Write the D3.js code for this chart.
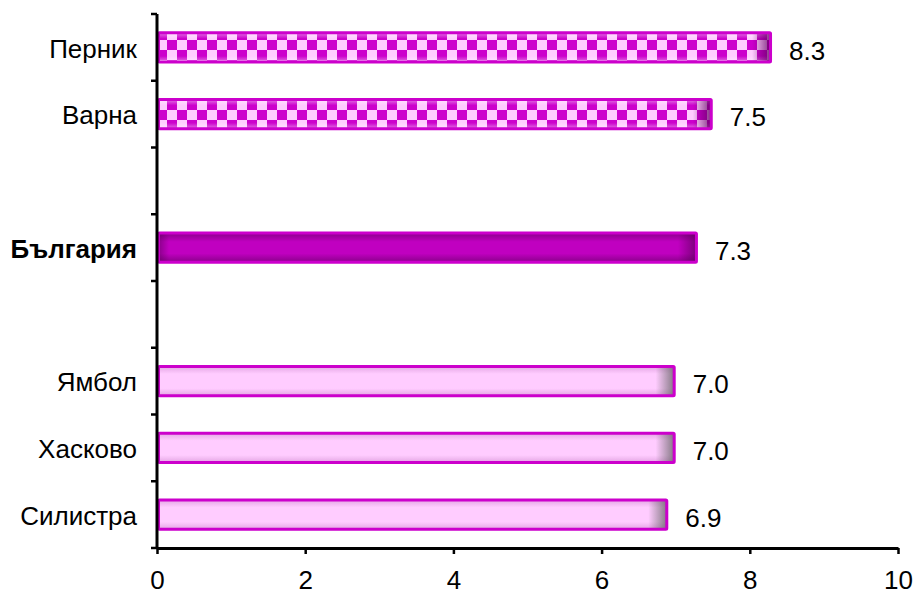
<!DOCTYPE html>
<html><head><meta charset="utf-8">
<script src="https://cdn.jsdelivr.net/npm/d3@7"></script>
<style>body{margin:0;background:#fff}svg{display:block}</style>
</head><body>
<svg id="chart" width="918" height="594"></svg>
<script>
const categories = ["Перник","Варна","gap1","България","gap2","Ямбол","Хасково","Силистра"];
const labels = ["Перник","Варна","","България","","Ямбол","Хасково","Силистра"];
const values = [8.3, 7.5, null, 7.3, null, 7.0, 7.0, 6.9];
const kinds = ["high","high",null,"national",null,"low","low","low"];
const xTicks = [0,2,4,6,8,10];

const FONT = "Liberation Sans, Arial, sans-serif";
const FS = 26;
const svg = d3.select("#chart");
const L = 157, R = 898, T = 14, B = 548;
const x = d3.scaleLinear().domain([0,10]).range([L,R]);
const y = d3.scaleBand().domain(categories).range([T,B]).paddingInner(0.52).paddingOuter(0.26);

const defs = svg.append("defs");
const pat = defs.append("pattern").attr("id","checker").attr("patternUnits","userSpaceOnUse")
  .attr("width",20).attr("height",20).attr("x",L).attr("y",0);
pat.append("rect").attr("width",20).attr("height",20).attr("fill","#ffccff");
pat.append("rect").attr("x",10).attr("y",0).attr("width",10).attr("height",10).attr("fill","#cc00cc");
pat.append("rect").attr("x",0).attr("y",10).attr("width",10).attr("height",10).attr("fill","#cc00cc");

function vgrad(id, color, op, inner) {
  const g = defs.append("linearGradient").attr("id",id).attr("x1",0).attr("y1",0).attr("x2",0).attr("y2",1);
  [[0,op],[inner,0],[1-inner,0],[1,op]].forEach(s=>
    g.append("stop").attr("offset",s[0]).attr("stop-color",color).attr("stop-opacity",s[1]));
}
vgrad("vsheen","#ffffff",0.45,0.2);
vgrad("vdark","#600060",0.55,0.3);
vgrad("vlight","#b060b0",0.35,0.25);

const H = y.bandwidth();
const bars = svg.append("g");
categories.forEach((c,i)=>{
  const v = values[i];
  if (v == null) return;
  const x0 = x(0), x1 = x(v), y0 = y(c);
  const w = x1 - x0;
  const g = bars.append("g");
  const k = kinds[i];
  const fill = k === "high" ? "url(#checker)" : k === "national" ? "#c000c0" : "#ffccff";
  g.append("rect").attr("x",x0+1.5).attr("y",y0+1.5).attr("width",w-3).attr("height",H-3).attr("fill",fill);
  const ov = k === "high" ? "url(#vsheen)" : k === "national" ? "url(#vdark)" : "url(#vlight)";
  g.append("rect").attr("x",x0+1.5).attr("y",y0+1.5).attr("width",w-3).attr("height",H-3).attr("fill",ov);
  const gid = "rs"+i;
  const gr = defs.append("linearGradient").attr("id",gid).attr("gradientUnits","userSpaceOnUse")
    .attr("x1",x1-20).attr("x2",x1-2).attr("y1",0).attr("y2",0);
  const sc = k === "national" ? "#500050" : k === "high" ? "#600060" : "#606060";
  gr.append("stop").attr("offset",0).attr("stop-color",sc).attr("stop-opacity",0);
  gr.append("stop").attr("offset",1).attr("stop-color",sc).attr("stop-opacity",k==="national"?0.6:0.75);
  g.append("rect").attr("x",x1-20).attr("y",y0+1.5).attr("width",18.5).attr("height",H-3).attr("fill","url(#"+gid+")");
  if (k === "national") {
    const gl = defs.append("linearGradient").attr("id","ls"+i).attr("gradientUnits","userSpaceOnUse")
      .attr("x1",x0+1).attr("x2",x0+12).attr("y1",0).attr("y2",0);
    gl.append("stop").attr("offset",0).attr("stop-color","#500050").attr("stop-opacity",0.5);
    gl.append("stop").attr("offset",1).attr("stop-color","#500050").attr("stop-opacity",0);
    g.append("rect").attr("x",x0+1.5).attr("y",y0+1.5).attr("width",11).attr("height",H-3).attr("fill","url(#ls"+i+")");
  }
  g.append("rect").attr("x",x0+1.5).attr("y",y0+1.5).attr("width",w-3).attr("height",H-3)
    .attr("fill","none").attr("stroke","#cc00cc").attr("stroke-width",3).attr("rx",1);
  svg.append("text").attr("x",x1+17).attr("y",y0+H/2+0.358*FS+3)
    .attr("font-family",FONT).attr("font-size",FS).attr("fill","#000")
    .text(d3.format(".1f")(v));
});

categories.forEach((c,i)=>{
  if (!labels[i]) return;
  svg.append("text").attr("x",137).attr("y",y(c)+H/2+0.358*FS+1).attr("text-anchor","end")
    .attr("font-family",FONT).attr("font-size",FS)
    .attr("font-weight", kinds[i]==="national" ? "bold" : "normal").attr("fill","#000").text(labels[i]);
});

const yax = svg.append("g");
yax.append("line").attr("x1",L).attr("x2",L).attr("y1",T).attr("y2",B).attr("stroke","#000").attr("stroke-width",3);
const step = y.step();
d3.range(categories.length+1).forEach(k=>{
  const yy = T + k*step;
  yax.append("line").attr("x1",L-6).attr("x2",L).attr("y1",yy).attr("y2",yy).attr("stroke","#000").attr("stroke-width",2.5);
});

const xa = svg.append("g").attr("transform",`translate(0,${B})`)
  .call(d3.axisBottom(x).tickValues(xTicks).tickSize(6).tickSizeOuter(0).tickFormat(d3.format("d")));
xa.select(".domain").attr("stroke","#000").attr("stroke-width",3);
xa.selectAll(".tick line").attr("stroke","#000").attr("stroke-width",2.5);
xa.selectAll(".tick text").attr("font-family",FONT).attr("font-size",FS)
  .attr("fill","#000").attr("y",41).attr("dy",0);
</script>
</body></html>
